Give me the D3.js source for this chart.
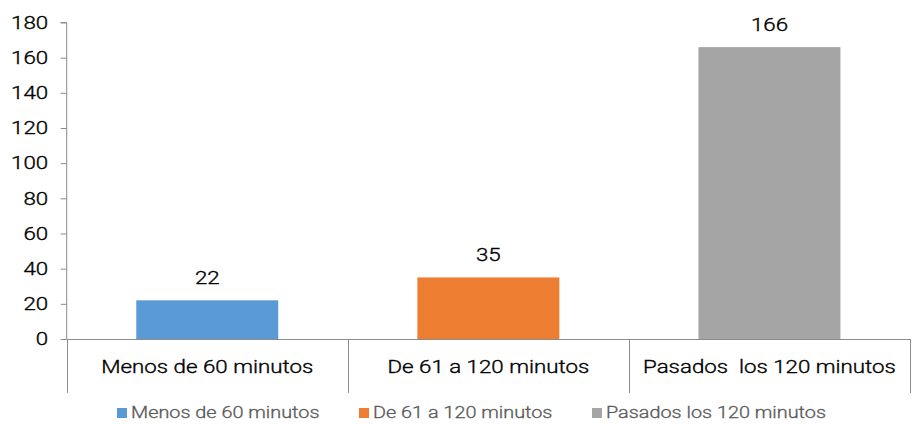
<!DOCTYPE html>
<html><head><meta charset="utf-8">
<script src="https://cdn.jsdelivr.net/npm/d3@7"></script>
<style>
body{margin:0;background:#fff;}
text{font-family:Roboto,"Liberation Sans",Arial,sans-serif;font-weight:300;}
</style></head>
<body><svg id="c" width="916" height="426"></svg>
<script>
const categories = ["Menos de 60 minutos","De 61 a 120 minutos","Pasados  los 120 minutos"];
const legendLabels = ["Menos de 60 minutos","De 61 a 120 minutos","Pasados los 120 minutos"];
const values = [22, 35, 166];
const colors = ["#5B9BD5","#ED7D31","#A5A5A5"];
const yTicks = [0,20,40,60,80,100,120,140,160,180];

const svg = d3.select("#c");
const SX = 1.24; // horizontal text stretch seen in the reference
const x0 = 66.7, x1 = 910, yTop = 22.5, yBot = 339;
const x = d3.scaleBand().domain(categories).range([x0, x1]).paddingInner(0.495).paddingOuter(0.2475);
const y = d3.scaleLinear().domain([0,180]).range([yBot, yTop]);
const axisColor = "#8c8c8c";

// y axis
const ya = svg.append("g").attr("transform",`translate(${x0},0)`)
  .call(d3.axisLeft(y).tickValues(yTicks).tickSize(6).tickPadding(9));
ya.attr("font-family",null).attr("font-size",null);
ya.select(".domain").attr("stroke",axisColor).attr("d",`M-6,${yTop}H0V${yBot}`);
ya.selectAll(".tick line").attr("stroke",axisColor);
ya.selectAll(".tick text").attr("fill","#000").attr("stroke","#000").attr("stroke-width",0.35)
  .style("font-size","18px")
  .attr("x",null).attr("transform",`translate(-18.5,0) scale(${SX},1)`);

// bars
svg.selectAll("rect.bar").data(values).join("rect").attr("class","bar")
  .attr("x",(d,i)=>x(categories[i])).attr("width",x.bandwidth())
  .attr("y",d=>y(d)).attr("height",d=>yBot-y(d)).attr("fill",(d,i)=>colors[i]);

// x axis line
const bandStep = (x1-x0)/categories.length;
svg.append("line").attr("x1",x0).attr("x2",x1).attr("y1",yBot+0.5).attr("y2",yBot+0.5)
  .attr("stroke",axisColor).attr("stroke-width",1);
// separators
const seps = d3.range(categories.length+1).map(i=>x0+i*bandStep);
svg.selectAll("line.sep").data(seps).join("line").attr("class","sep")
  .attr("x1",d=>Math.round(d)+0.5).attr("x2",d=>Math.round(d)+0.5)
  .attr("y1",yBot).attr("y2",393).attr("stroke",axisColor);

// category labels
svg.selectAll("text.cat").data(categories).join("text").attr("class","cat")
  .attr("transform",d=>`translate(${x(d)+x.bandwidth()/2},373) scale(${SX},1)`)
  .attr("text-anchor","middle")
  .style("font-size","18px").style("white-space","pre")
  .attr("fill","#000").attr("stroke","#000").attr("stroke-width",0.35).text(d=>d);

// value labels
svg.selectAll("text.val").data(values).join("text").attr("class","val")
  .attr("transform",(d,i)=>`translate(${x(categories[i])+x.bandwidth()/2},${y(d)-16}) scale(${SX},1)`)
  .attr("text-anchor","middle").style("font-size","18px")
  .attr("fill","#000").attr("stroke","#000").attr("stroke-width",0.35).text(d=>d);

// legend
const legX = [117, 359, 592];
const lg = svg.selectAll("g.leg").data(legendLabels).join("g").attr("class","leg")
  .attr("transform",(d,i)=>`translate(${legX[i]},408)`);
lg.append("rect").attr("width",10).attr("height",10).attr("fill",(d,i)=>colors[i]);
lg.append("text").attr("transform",`translate(14,10) scale(${SX},1)`)
  .style("font-size","16px").attr("fill","#595959").attr("stroke","#595959").attr("stroke-width",0.3).text(d=>d);
</script></body></html>
